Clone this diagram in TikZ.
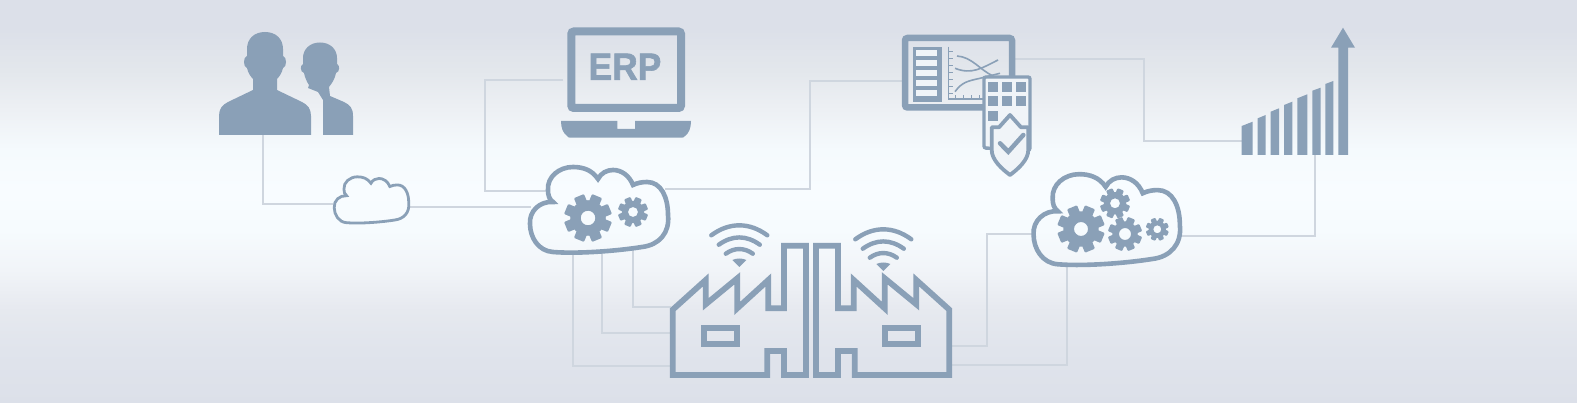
\documentclass[tikz,border=0pt]{standalone}
\usepackage{fontspec}
\newfontfamily\erpfont[BoldFeatures={FakeBold=1.6,FakeStretch=0.93}]{Liberation Sans}
\definecolor{iconblue}{HTML}{8AA0B7}
\definecolor{wiregray}{HTML}{CFD6DF}
\definecolor{panelfill}{HTML}{F0F4F8}
\definecolor{bgA}{HTML}{DCE0E9}
\definecolor{bgB}{HTML}{E0E4EC}
\definecolor{bgC}{HTML}{E6E9EF}
\definecolor{bgD}{HTML}{F1F4F8}
\definecolor{bgE}{HTML}{F6FBFE}
\definecolor{bgF}{HTML}{F8FCFF}
\definecolor{bgG}{HTML}{F5FAFD}
\definecolor{bgH}{HTML}{EDF0F4}
\definecolor{bgI}{HTML}{E3E7EC}
\pgfdeclareverticalshading{backdrop}{100bp}{
  color(0bp)=(bgA); color(25bp)=(bgA); color(31.6bp)=(bgB); color(36.5bp)=(bgC);
  color(41.5bp)=(bgD); color(46.5bp)=(bgE); color(51.4bp)=(bgF); color(56.4bp)=(bgG);
  color(61.4bp)=(bgH); color(66.3bp)=(bgI); color(71.3bp)=(bgA); color(100bp)=(bgA)}

\tikzset{
  wire/.style={draw=wiregray,line width=1.8pt},
  solid icon/.style={fill=iconblue,draw=none},
  outline/.style={draw=iconblue,line width=5.8pt},
  thin line/.style={draw=iconblue,line width=1.6pt},
  pics/cloud/.style={code={
    \draw[draw=iconblue,pic actions]
      (-44,43) .. controls (-20,45) and (20,42) .. (45,38)
      .. controls (62,36) and (73,24) .. (71,6)
      .. controls (71,-12) and (64,-27) .. (50,-27)
      .. controls (45,-27) and (40,-26) .. (36,-24)
      .. controls (32,-34) and (24,-39) .. (16,-39)
      .. controls (10,-39) and (4,-36) .. (1,-30)
      .. controls (-5,-39) and (-14,-42) .. (-24,-42)
      .. controls (-38,-42) and (-50,-32) .. (-49,-19)
      .. controls (-49,-14) and (-48,-10) .. (-44,-7)
      .. controls (-57,-8) and (-68,2) .. (-67,15)
      .. controls (-67,28) and (-59,42) .. (-44,43) -- cycle;
  }},
  pics/gear/.style 2 args={code={
    \fill[solid icon,even odd rule] (0,0) circle ({0.75*#1}) (0,0) circle (#2);
    \foreach \a in {0,45,...,315}
      \fill[solid icon,rotate=\a+22.5,rounded corners=1pt]
        ({0.6*#1},{-0.23*#1}) rectangle (#1,{0.23*#1});
  }},
  pics/factory/.style={code={
    \draw[outline]
      (0,66) -- (0,0.7) -- (33,-29) -- (33,-4.7) -- (64.6,-30.7) -- (64.6,-0.7)
      -- (95.6,-29) -- (95.6,-0.7) -- (111.3,-0.7) -- (111.3,-63.3) -- (133.3,-63.3)
      -- (133.3,66) -- (111.3,66) -- (111.3,42) -- (94.6,42) -- (94.6,66) -- cycle;
    \draw[outline] (31.6,19.3) rectangle (64.6,35);
  }},
  pics/wifi/.style={code={
    \draw[iconblue,line width=4.4pt,line cap=round]
      (-28,-31.7) .. controls (-10,-45) and (10,-45) .. (28,-31.7)
      (-20.5,-22.3) .. controls (-7,-32) and (7,-32) .. (20.5,-22.3)
      (-13.5,-13.3) .. controls (-5,-19.5) and (5,-19.5) .. (13.5,-13.3);
    \fill[solid icon] (-7,-7) .. controls (-3,-9) and (3,-9) .. (7,-7) -- (0,0) -- cycle;
  }}
}

\begin{document}
\begin{tikzpicture}[x=1pt,y=-1pt]

  % backdrop
  \fill[shading=backdrop] (0,0) rectangle (1577,403);

  % connection points
  \coordinate (usersB)   at (263,135);
  \coordinate (smallL)   at (333,204);
  \coordinate (smallR)   at (410,207);
  \coordinate (mainL)    at (531,207);
  \coordinate (erpL)     at (563,80);
  \coordinate (bendA)    at (485,190.7);
  \coordinate (mainTL)   at (550,190.7);
  \coordinate (mainTR)   at (665,189.3);
  \coordinate (bendB)    at (809.6,81);
  \coordinate (dashL)    at (902,81);
  \coordinate (dashR)    at (1015,59.3);
  \coordinate (bendC)    at (1144.3,140.7);
  \coordinate (barsL)    at (1242,140.7);
  \coordinate (mainB1)   at (573.3,252);
  \coordinate (mainB2)   at (601.7,252);
  \coordinate (mainB3)   at (633.3,250);
  \coordinate (plantL1)  at (671,365.7);
  \coordinate (plantL2)  at (671,333.3);
  \coordinate (plantL3)  at (671,306.7);
  \coordinate (plantR1)  at (950,345.7);
  \coordinate (plantR2)  at (950,365);
  \coordinate (bendD)    at (986.6,234);
  \coordinate (sideL)    at (1032,234);
  \coordinate (sideB)    at (1066.7,263);
  \coordinate (sideR)    at (1180,236);
  \coordinate (barsB)    at (1315,155);

  % connectors
  \draw[wire] (usersB) |- (smallL);
  \draw[wire] (smallR) -- (mainL);
  \draw[wire] (erpL) -| (bendA) -- (mainTL);
  \draw[wire] (mainTR) -| (bendB) -- (dashL);
  \draw[wire] (dashR) -| (bendC) -- (barsL);
  \draw[wire] (mainB1) |- (plantL1);
  \draw[wire] (mainB2) |- (plantL2);
  \draw[wire] (mainB3) |- (plantL3);
  \draw[wire] (plantR1) -| (bendD) -- (sideL);
  \draw[wire] (plantR2) -| (sideB);
  \draw[wire] (sideR) -| (barsB);

  % users
  \fill[solid icon] (265,32) .. controls (254,32) and (247,39) .. (247,49) -- (247,56)
    .. controls (243,57) and (243,67) .. (247,68) .. controls (248,73) and (251,77) .. (253,79)
    -- (253,90) -- (228,102) .. controls (222,105) and (219,109) .. (219,116) -- (219,135)
    -- (311,135) -- (311,116) .. controls (311,109) and (308,105) .. (302,102) -- (277,90)
    -- (277,79) .. controls (279,77) and (282,73) .. (283,68) .. controls (287,67) and (287,57) .. (283,56)
    -- (283,49) .. controls (283,39) and (276,32) .. (265,32) -- cycle;
  \fill[solid icon] (320,42.5) .. controls (310,42.5) and (303,49) .. (303,58) -- (303,64)
    .. controls (300,65) and (300,72) .. (304,73) .. controls (305,78) and (307,82) .. (309,85)
    -- (308,88) -- (318,92) -- (323,100) -- (323,135) -- (353,135) -- (353,116)
    .. controls (353,108) and (350,105) .. (344,102) -- (330,96) -- (329,87)
    .. controls (333,82) and (335,78) .. (336,73) .. controls (340,72) and (340,65) .. (337,64)
    -- (337,58) .. controls (337,49) and (330,42.5) .. (320,42.5) -- cycle;

  % clouds
  \pic[scale=0.54,line width=2.8pt] (smallCloud) at (370.4,199.5) {cloud};
  \pic[line width=4.6pt] (mainCloud) at (597,209) {cloud};
  \pic[scale=1.06,line width=4.6pt] (sideCloud) at (1104.6,218.7) {cloud};

  % gears
  \pic (gearA) at (588,218) {gear={23.7}{7.3}};
  \pic (gearB) at (633,212) {gear={15}{5}};
  \pic (gearC) at (1081,229) {gear={23.5}{7}};
  \pic (gearD) at (1115,203.3) {gear={15}{5}};
  \pic (gearE) at (1125,234) {gear={17}{6}};
  \pic (gearF) at (1157.3,229.3) {gear={11.5}{4}};

  % ERP laptop
  \draw[iconblue,line width=8pt,rounded corners=2.5pt] (571.3,31.5) rectangle (681,108);
  \node[text=iconblue,font=\erpfont\bfseries\fontsize{38}{38}\selectfont,inner sep=0pt] (erpLabel) at (625,66.7) {ERP};
  \fill[solid icon] (561,121) -- (617.3,121) -- (617.3,129) -- (635,129) -- (635,121)
    -- (691,121) .. controls (691,128) and (689,133) .. (685,136) .. controls (684,137.5) and (683,137.7) .. (681,137.7)
    -- (571,137.7) .. controls (569,137.7) and (568,137.5) .. (567,136) .. controls (563,133) and (561,128) .. (561,121) -- cycle;

  % dashboard
  \draw[iconblue,line width=6.5pt,rounded corners=2.5pt] (905,38) rectangle (1012,107.5);
  \fill[solid icon] (913.3,46.7) rectangle (941.7,101.7);
  \foreach \r in {50.5,60.5,70.5,80.5,90.5}
    \fill[panelfill] (916,\r) rectangle (936.7,\r+6);
  \draw[thin line] (948.3,46.7) -- (948.3,99.3) -- (983,99.3);
  \foreach \t in {52,59,66,73,80,87,94}
    \draw[iconblue,line width=1pt] (948.3,\t) -- (953,\t);
  \foreach \t in {955,963,971,979}
    \draw[iconblue,line width=1pt] (\t,99.3) -- (\t,95);
  \draw[thin line] (957,56) .. controls (972,57) and (980,70) .. (993,76);
  \draw[thin line] (955,68.3) .. controls (972,75) and (982,68) .. (998,60);
  \draw[thin line] (955,91.7) .. controls (962,82) and (968,81) .. (980,78.3) -- (1000,73.3);
  \draw[iconblue,fill=panelfill,line width=3.4pt,rounded corners=2pt]
    (984,148) -- (984,77) -- (1030,77) -- (1030,150) -- cycle;
  \foreach \cx/\cy in {988.3/81.7,1002.3/81.7,1016/81.7,988.3/96,1002.3/96,1016/96,988.3/110.7}
    \fill[solid icon] (\cx,\cy) rectangle +(10,10);
  \draw[iconblue,fill=panelfill,line width=3.8pt,line join=round]
    (1010,115) -- (1021,127.3) -- (1028.3,127.3) -- (1028.3,150)
    .. controls (1028.3,160) and (1018,169) .. (1010,175)
    .. controls (1002,169) and (991.7,160) .. (991.7,150)
    -- (991.7,127.3) -- (999,127.3) -- cycle;
  \draw[iconblue,line width=4.5pt,line cap=round] (1000,143.3) -- (1008.3,151.7) -- (1023.3,135);

  % growth chart
  \foreach \xa/\xb/\ya/\yb in {1241.7/1252.7/126/121.7,1257.7/1265.7/118.3/115,1270.7/1279/111.7/108.3,
      1284/1292.3/105/101.7,1297.3/1307.3/98.3/94.3,1312.3/1320.7/90.7/87.7,1325.3/1333.3/84/81}
    \fill[solid icon] (\xa,155) -- (\xa,\ya) -- (\xb,\yb) -- (\xb,155) -- cycle;
  \fill[solid icon] (1338.3,155) -- (1338.3,47.7) -- (1331,47.7) -- (1343,27.7) -- (1355,47.7)
    -- (1348,47.7) -- (1348,155) -- cycle;

  % factories
  \pic (plantA) at (672.7,309) {factory};
  \pic[xscale=-1] (plantB) at (949.3,309) {factory};
  \pic (wifiA) at (739.3,267) {wifi};
  \pic (wifiB) at (883.3,271) {wifi};

\end{tikzpicture}
\end{document}
